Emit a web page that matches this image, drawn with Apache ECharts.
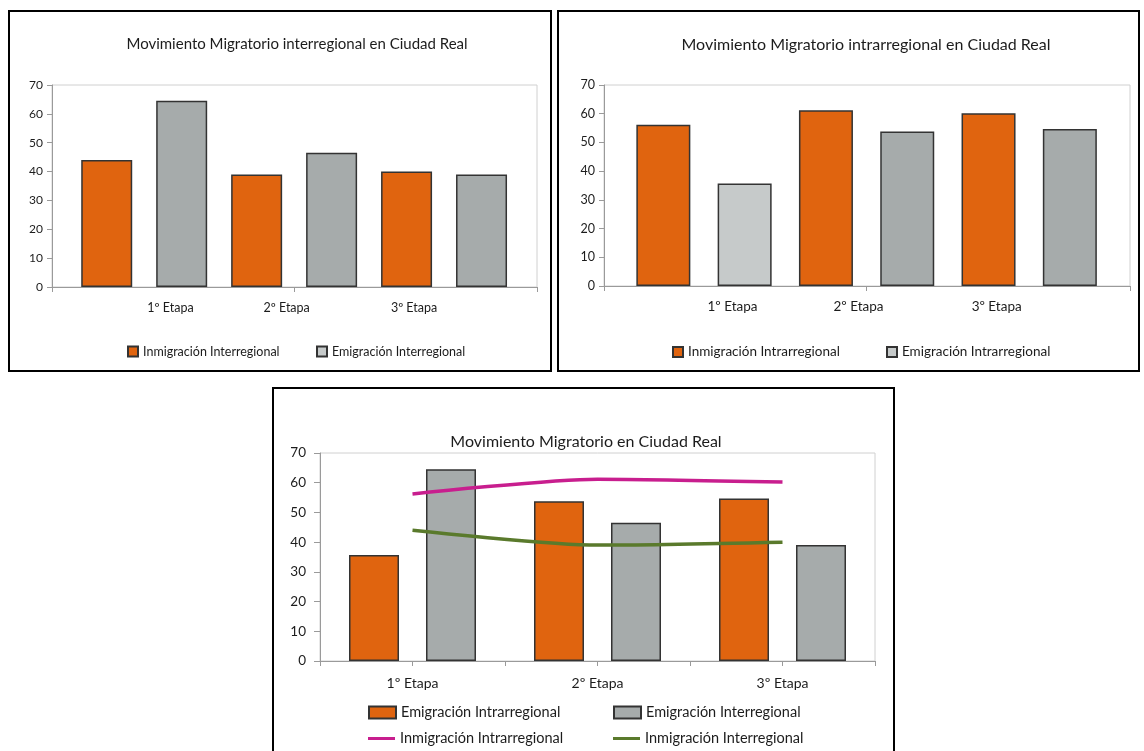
<!DOCTYPE html>
<html>
<head>
<meta charset="utf-8">
<script src="https://cdn.jsdelivr.net/npm/echarts@6/dist/echarts.min.js"></script>
<style>
  html, body { margin: 0; padding: 0; background: #fff; }
  .panel { position: absolute; box-sizing: border-box; border: 2px solid #000; background: #fff; }
  .panel > div { position: absolute; left: 0; top: 0; right: 0; bottom: 0; }
</style>
</head>
<body>
<div class="panel" style="left:8px;top:10px;width:544px;height:362px"><div id="c1"></div></div>
<div class="panel" style="left:557px;top:10px;width:583px;height:362px"><div id="c2"></div></div>
<div class="panel" style="left:272px;top:387px;width:623px;height:372px"><div id="c3"></div></div>
<script>
// Stages and migration counts per stage
const etapas = ['1º Etapa', '2º Etapa', '3º Etapa'];
const inmInter = [44, 39, 40];        // Inmigración Interregional
const emInter = [64.5, 46.5, 39];     // Emigración Interregional
const inmIntra = [56.2, 61.2, 60.2];  // Inmigración Intrarregional
const emIntra = [35.7, 53.8, 54.7];   // Emigración Intrarregional
const yMax = 70;
const yStep = 10;

const FONT = 'Lato, "Open Sans", sans-serif';
const TXT = '#1c1c1c';
const ORANGE = '#e0640f';
const GRAY = '#a6abab';
const LIGHT_GRAY = '#c6caca';
const EDGE = '#333333';
const AXIS = '#9a9a9a';
const FRAME = '#d0d0d0';

// Stage labels on the paired-bar panels sit between bar slots
const X_MIN = 0.27, X_MAX = 6.74;
const stageLabelAt = [1.85, 3.40, 5.10];
const nearestStage = v => stageLabelAt.reduce((b, p, i) =>
  Math.abs(p - v) < Math.abs(stageLabelAt[b] - v) ? i : b, 0);

function yAxisCfg(fontSize, margin, tickLen) {
  return {
    type: 'value', min: 0, max: yMax, interval: yStep,
    splitLine: { show: false },
    axisLine: { show: true, onZero: false, lineStyle: { color: AXIS, width: 1 } },
    axisTick: { show: true, length: tickLen, lineStyle: { color: AXIS } },
    axisLabel: { fontSize: fontSize, color: TXT, fontFamily: FONT, margin: margin }
  };
}

function pairedPanel(el, opts) {
  const chart = echarts.init(document.getElementById(el), null, { renderer: 'canvas' });
  const barStyle = c => ({ color: c, borderColor: EDGE, borderWidth: 1.5 });
  const orangeData = opts.inm.map((v, i) => [2 * i + 1, v]);
  const grayData = opts.em.map((v, i) => {
    const item = { value: [2 * i + 2, v] };
    if (opts.lightFirst && i === 0) item.itemStyle = { color: LIGHT_GRAY };
    return item;
  });
  const legendText = { fontSize: opts.fs.legend, color: TXT, fontFamily: FONT };
  chart.setOption({
    animation: false,
    backgroundColor: '#fff',
    textStyle: { fontFamily: FONT },
    title: {
      text: opts.title, left: opts.titleX, top: 20, textAlign: 'center',
      textStyle: { fontSize: opts.fs.title, fontWeight: 'normal', color: TXT, fontFamily: FONT }
    },
    grid: Object.assign({ show: true, borderColor: FRAME, borderWidth: 1, backgroundColor: 'transparent' }, opts.grid),
    xAxis: {
      type: 'value', min: X_MIN, max: X_MAX,
      splitLine: { show: false },
      axisLine: { show: true, onZero: false, lineStyle: { color: AXIS, width: 1 } },
      axisTick: { show: true, customValues: [X_MIN, 3.5, X_MAX], length: 5, lineStyle: { color: AXIS } },
      axisLabel: {
        customValues: stageLabelAt,
        formatter: v => etapas[nearestStage(v)],
        margin: 14, fontSize: opts.fs.x, color: TXT, fontFamily: FONT
      }
    },
    yAxis: yAxisCfg(opts.fs.y, 9, 5),
    legend: [
      { data: [opts.names[0]], left: opts.legendX[0], top: 333, padding: 0, icon: 'rect',
        itemWidth: 10, itemHeight: 10, textStyle: legendText },
      { data: [{ name: opts.names[1], itemStyle: { color: LIGHT_GRAY } }], left: opts.legendX[1], top: 333, padding: 0,
        icon: 'rect', itemWidth: 10, itemHeight: 10, textStyle: legendText }
    ],
    series: [
      { name: opts.names[0], type: 'bar', data: orangeData, barWidth: opts.barWidth, barGap: '-100%',
        itemStyle: barStyle(ORANGE) },
      { name: opts.names[1], type: 'bar', data: grayData, barWidth: opts.barWidth, barGap: '-100%',
        itemStyle: barStyle(GRAY) }
    ]
  });
}

pairedPanel('c1', {
  title: 'Movimiento Migratorio interregional en Ciudad Real',
  titleX: 282,
  grid: { left: 42, top: 73, width: 485, height: 202 },
  names: ['Inmigración Interregional', 'Emigración Interregional'],
  inm: inmInter, em: emInter,
  barWidth: 51,
  fs: { title: 15, x: 12.5, y: 12, legend: 12.5 },
  legendX: [117, 306]
});

pairedPanel('c2', {
  title: 'Movimiento Migratorio intrarregional en Ciudad Real',
  titleX: 302,
  grid: { left: 45, top: 73, width: 526, height: 201 },
  names: ['Inmigración Intrarregional', 'Emigración Intrarregional'],
  inm: inmIntra, em: emIntra,
  barWidth: 54,
  lightFirst: true,
  fs: { title: 16, x: 13.5, y: 12.5, legend: 13.5 },
  legendX: [113, 327]
});

// Combined panel: emigration as bars, immigration as smoothed lines
(function () {
  const chart = echarts.init(document.getElementById('c3'), null, { renderer: 'canvas' });
  const legendText = { fontSize: 14.5, color: TXT, fontFamily: FONT };
  chart.setOption({
    animation: false,
    backgroundColor: '#fff',
    textStyle: { fontFamily: FONT },
    title: {
      text: 'Movimiento Migratorio en Ciudad Real', left: 307, top: 40, textAlign: 'center',
      textStyle: { fontSize: 16, fontWeight: 'normal', color: TXT, fontFamily: FONT }
    },
    grid: { left: 46, top: 64, width: 555, height: 208, show: true, borderColor: FRAME, borderWidth: 1 },
    xAxis: [
      {
        type: 'category', data: etapas, boundaryGap: true,
        axisLine: { show: true, onZero: false, lineStyle: { color: AXIS } },
        axisTick: { show: true, alignWithLabel: false, length: 5, lineStyle: { color: AXIS } },
        axisLabel: { fontSize: 14, color: TXT, fontFamily: FONT, margin: 15 }
      },
      {
        type: 'category', data: etapas, boundaryGap: true, position: 'bottom',
        axisLine: { show: false },
        axisTick: { show: true, alignWithLabel: true, length: 5, lineStyle: { color: AXIS } },
        axisLabel: { show: false }
      }
    ],
    yAxis: yAxisCfg(13.5, 14, 6),
    legend: [
      { data: ['Emigración Intrarregional'], left: 94, top: 316, padding: 0, icon: 'rect', itemWidth: 27, itemHeight: 12, textStyle: legendText },
      { data: ['Emigración Interregional'], left: 339, top: 316, padding: 0, icon: 'rect', itemWidth: 27, itemHeight: 12, textStyle: legendText },
      { data: ['Inmigración Intrarregional'], left: 94, top: 342, padding: 0, icon: 'rect', itemWidth: 27, itemHeight: 3, textStyle: legendText },
      { data: ['Inmigración Interregional'], left: 339, top: 342, padding: 0, icon: 'rect', itemWidth: 27, itemHeight: 3, textStyle: legendText }
    ],
    series: [
      { name: 'Emigración Intrarregional', type: 'bar', data: emIntra, barWidth: 50, barGap: '54%',
        itemStyle: { color: ORANGE, borderColor: EDGE, borderWidth: 1.5 } },
      { name: 'Emigración Interregional', type: 'bar', data: emInter, barWidth: 50, barGap: '54%',
        itemStyle: { color: GRAY, borderColor: EDGE, borderWidth: 1.5 } },
      { name: 'Inmigración Intrarregional', type: 'line', data: inmIntra, smooth: 0.25, symbol: 'none',
        color: '#c81e8e', lineStyle: { color: '#c81e8e', width: 3.5 }, z: 5 },
      { name: 'Inmigración Interregional', type: 'line', data: inmInter, smooth: 0.25, symbol: 'none',
        color: '#5a7a2c', lineStyle: { color: '#5a7a2c', width: 3.5 }, z: 5 }
    ]
  });
})();
</script>
</body>
</html>
